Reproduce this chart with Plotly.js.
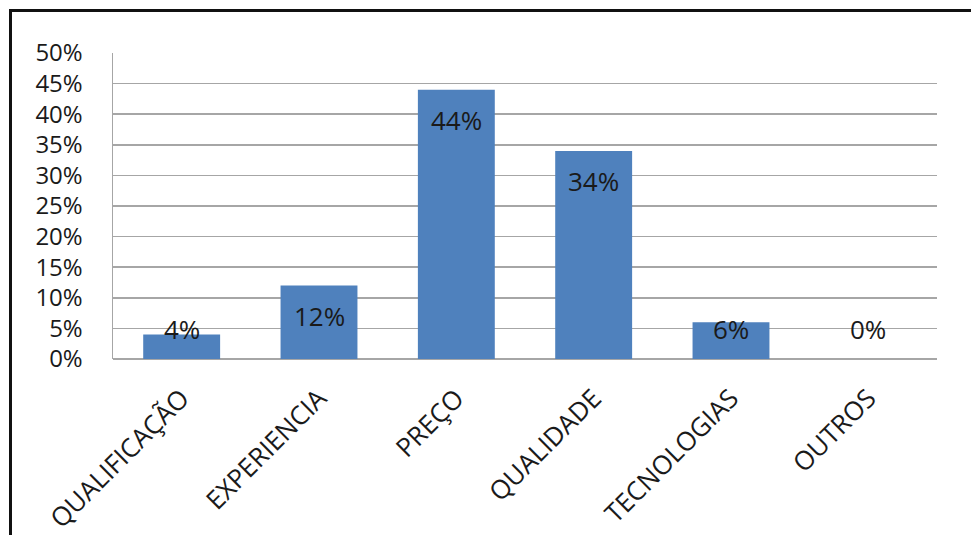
<!DOCTYPE html>
<html>
<head>
<meta charset="utf-8">
<script src="https://cdn.plot.ly/plotly-3.0.1.min.js"></script>
<style>
html,body{margin:0;padding:0;background:#fff;}
#chart{width:971px;height:535px;position:absolute;left:0;top:0;}
#frame{position:absolute;left:9px;top:9px;width:1000px;height:600px;border-left:3px solid #111;border-top:3px solid #111;box-shadow:-1px -1px 0 #888 inset;pointer-events:none;}
</style>
</head>
<body>
<div id="chart"></div>
<div id="frame"></div>
<script>
const categories = ["QUALIFICAÇÃO","EXPERIENCIA","PREÇO","QUALIDADE","TECNOLOGIAS","OUTROS"];
const values = [4, 12, 44, 34, 6, 0];
const labels = ["4%","12%","44%","34%","6%","0%"];
const yTicks = [0,5,10,15,20,25,30,35,40,45,50];
const yTickText = ["0%","5%","10%","15%","20%","25%","30%","35%","40%","45%","50%"];

const FONT = '"Open Sans", "Noto Sans", sans-serif';
const annotations = categories.map((c,i)=>({
  x: c, y: Math.max(values[i], 9.8), xref:'x', yref:'y',
  text: labels[i], showarrow:false, yanchor:'middle', yshift:-30,
  font:{family:FONT, size:26, color:'#1a1a1a'}
}));

Plotly.newPlot('chart', [{
  type:'bar', x:categories, y:values,
  marker:{color:'#4F81BD', line:{width:0}},
  width:0.56, hoverinfo:'none'
}], {
  width:971, height:535,
  margin:{l:113, r:34, t:53, b:176},
  paper_bgcolor:'#fff', plot_bgcolor:'#fff',
  showlegend:false,
  xaxis:{
    type:'category', tickangle:-45, showgrid:false, zeroline:false,
    showline:false, ticks:'', ticklabelstandoff:18,
    tickfont:{family:FONT, size:26, color:'#1a1a1a'}
  },
  yaxis:{
    range:[0,50], tickvals:yTicks, ticktext:yTickText,
    showgrid:true, gridcolor:'#a6a6a6', gridwidth:1.5,
    zeroline:true, zerolinecolor:'#a6a6a6', zerolinewidth:2,
    showline:true, linecolor:'#a6a6a6', linewidth:1.5,
    ticks:'', ticklabelstandoff:24,
    tickfont:{family:FONT, size:24, color:'#1a1a1a'}
  },
  annotations: annotations
}, {staticPlot:true});
</script>
</body>
</html>
